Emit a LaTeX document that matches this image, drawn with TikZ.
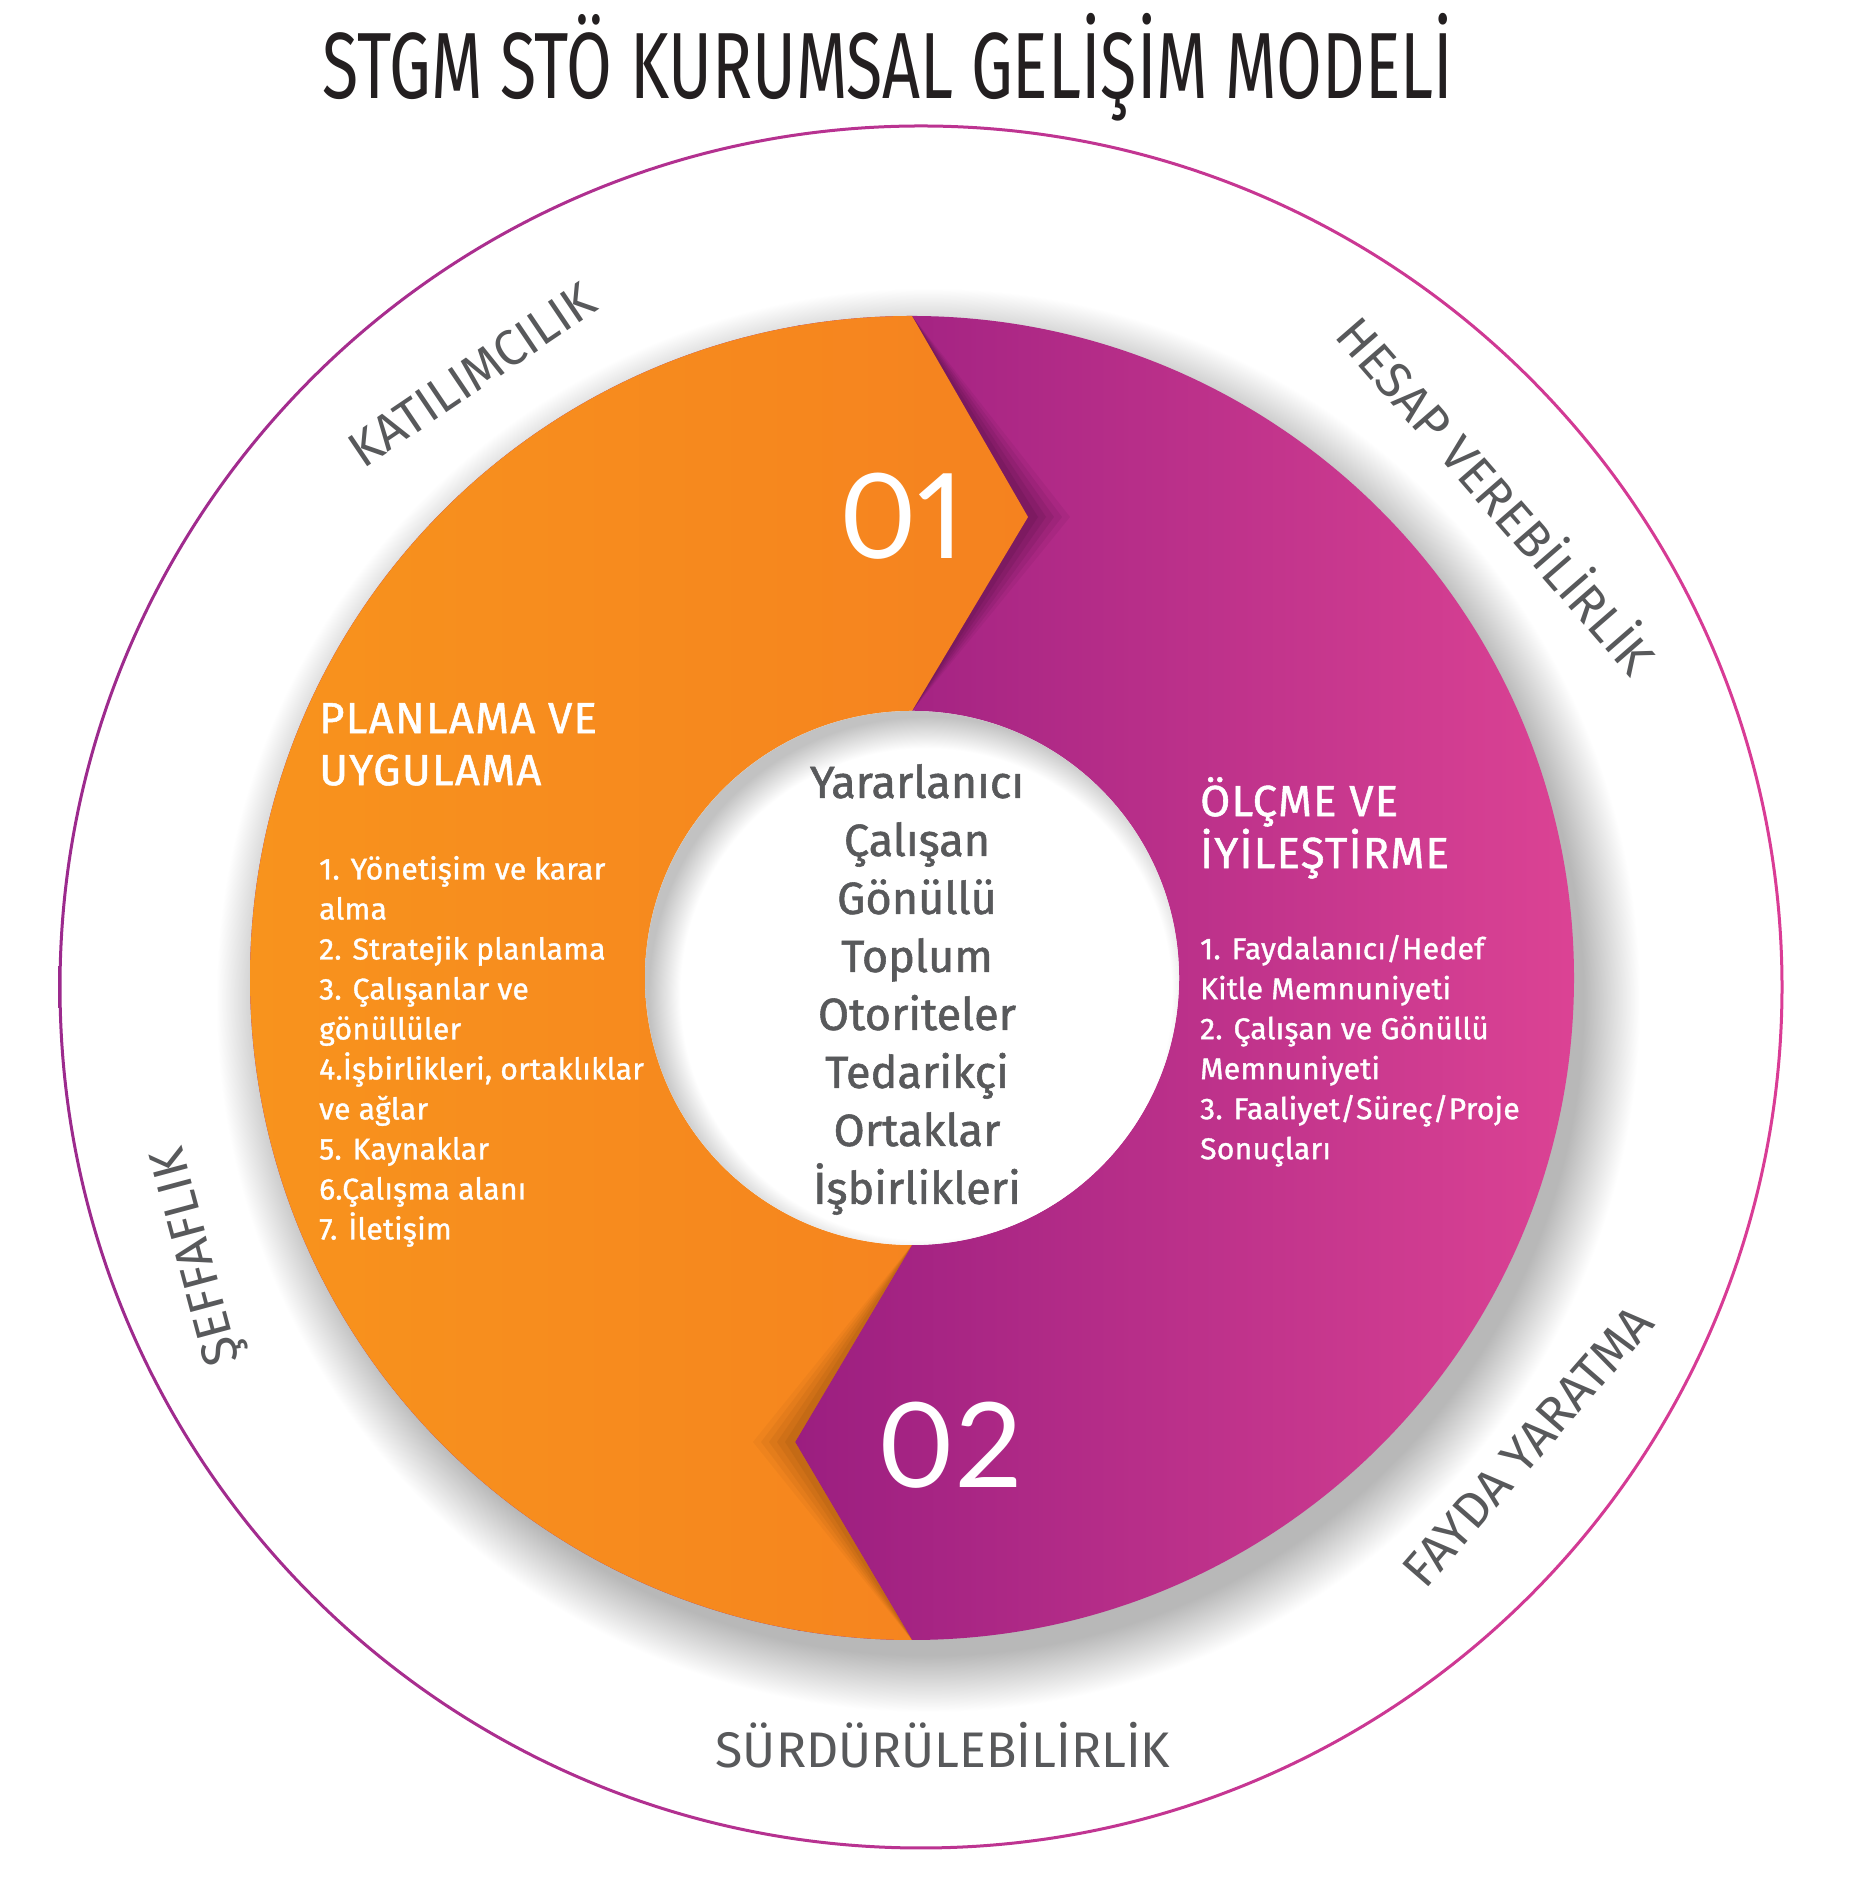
\documentclass[tikz,border=0pt]{standalone}
\usepackage{fontspec}
\setmainfont{Fira Sans}
\newfontfamily\titlefont[FakeStretch=0.705]{Fira Sans}
\newfontfamily\boxfont[FakeBold=1.2]{Fira Sans}
\newfontfamily\numberfont[Numbers=Proportional]{Lato}
\usetikzlibrary{
    positioning,
    calc
}
\definecolor{stgmorange}{HTML}{F8931D}
\definecolor{stgmorangedark}{HTML}{F5821F}
\definecolor{stgmpurple}{HTML}{9B1E80}
\definecolor{stgmpink}{HTML}{DC4394}
\definecolor{stgmrimleft}{HTML}{9C2A8D}
\definecolor{stgmrimright}{HTML}{DA3C95}
\definecolor{stgmgray}{HTML}{58595B}
\definecolor{stgmtitle}{HTML}{231F20}
\definecolor{purpleshade}{HTML}{4A0F3D}
\definecolor{orangeshade}{HTML}{8A4A10}

\pgfdeclareradialshading{ringshadow}{\pgfpointorigin}{%
    color(0bp)=(black!28); color(23bp)=(black!28); color(25bp)=(white); color(50bp)=(white)}
\pgfdeclareradialshading{holeshadow}{\pgfpointorigin}{%
    color(0bp)=(white); color(20bp)=(white); color(22.6bp)=(black!24); color(25bp)=(black!24); color(50bp)=(black!24)}

\tikzset{%
    title/.style={%
        font=\titlefont\fontsize{94}{94}\selectfont,
        text=stgmtitle,
        inner sep=0pt
    },
    value/.style={%
        font=\fontsize{50}{50}\selectfont,
        text=stgmgray,
        inner sep=0pt
    },
    heading/.style={%
        font=\boxfont\fontsize{43.5}{52}\selectfont\addfontfeature{LetterSpace=3},
        text=white,
        align=left,
        inner sep=0pt,
        anchor=north west
    },
    item list/.style={%
        font=\boxfont\fontsize{30}{40}\selectfont\addfontfeature{LetterSpace=1},
        text=white,
        align=left,
        inner sep=0pt
    },
    stakeholders/.style={%
        font=\boxfont\fontsize{45}{58}\selectfont,
        text=stgmgray,
        align=center,
        inner sep=0pt
    },
    step number/.style={%
        font=\numberfont\fontsize{118}{118}\selectfont,
        text=white,
        inner sep=0pt,
        anchor=base
    },
    rim/.style={%
        even odd rule,
        left color=stgmrimleft,
        right color=stgmrimright
    },
}

\begin{document}
\begin{tikzpicture}[x=1pt, y=1pt]
    \useasboundingbox[fill=white] (0,0) rectangle (1851,1894);

    \coordinate (c) at (912,916);
    \coordinate (rim center) at (921,907);
    \coordinate (top) at ($(c)+(90:662)$);
    \coordinate (bottom) at ($(c)+(-90:662)$);
    \coordinate (hole top) at ($(c)+(90:267)$);
    \coordinate (hole bottom) at ($(c)+(-90:267)$);
    \coordinate (tip1) at (1028,1377);
    \coordinate (tip2) at (795,452);

    % shadow under the ring
    \shade[shading=ringshadow] ($(c)+(16,-22)$) circle (712);

    % purple part
    \begin{scope}
        \clip (c) circle (662);
        \fill[stgmpurple] (240,240) rectangle (800,1590);
        \shade[left color=stgmpurple, right color=stgmpink] (795,240) rectangle (1580,1590);
        \fill[purpleshade, opacity=.08] (top) -- ($(tip1)+(42,0)$) -- (hole top) -- cycle;
        \fill[purpleshade, opacity=.1] (top) -- ($(tip1)+(34,0)$) -- (hole top) -- cycle;
        \fill[purpleshade, opacity=.12] (top) -- ($(tip1)+(26,0)$) -- (hole top) -- cycle;
        \fill[purpleshade, opacity=.14] (top) -- ($(tip1)+(18,0)$) -- (hole top) -- cycle;
        \fill[purpleshade, opacity=.16] (top) -- ($(tip1)+(10,0)$) -- (hole top) -- cycle;
    \end{scope}

    % orange part
    \shade[left color=stgmorange, right color=stgmorangedark]
        (top) arc[start angle=90, end angle=270, radius=662] -- (tip2) -- (hole bottom)
        -- (hole top) -- (tip1) -- cycle;
    \begin{scope}
        \clip (top) arc[start angle=90, end angle=270, radius=662] -- (tip2) -- (hole bottom)
            -- (hole top) -- (tip1) -- cycle;
        \fill[orangeshade, opacity=.07] (hole bottom) -- ($(tip2)+(-42,0)$) -- (bottom) -- cycle;
        \fill[orangeshade, opacity=.09] (hole bottom) -- ($(tip2)+(-34,0)$) -- (bottom) -- cycle;
        \fill[orangeshade, opacity=.11] (hole bottom) -- ($(tip2)+(-26,0)$) -- (bottom) -- cycle;
        \fill[orangeshade, opacity=.13] (hole bottom) -- ($(tip2)+(-18,0)$) -- (bottom) -- cycle;
        \fill[orangeshade, opacity=.15] (hole bottom) -- ($(tip2)+(-10,0)$) -- (bottom) -- cycle;
    \end{scope}

    % hole
    \fill[white] (c) circle (267);
    \begin{scope}
        \clip (c) circle (267);
        \shade[shading=holeshadow] ($(c)+(14,-16)$) circle (307);
    \end{scope}

    \shade[rim] (rim center) circle (862.5) (rim center) circle (859.5);

    \node[title, anchor=base] (title) at (888,1795) {STGM STÖ KURUMSAL GELİŞİM MODELİ};

    \node[value, rotate=34] (participation) at (472,1519) {KATILIMCILIK};
    \node[value, rotate=-49] (accountability) at (1499,1401) {HESAP VEREBİLİRLİK};
    \node[value, rotate=105] (transparency) at (200,638) {ŞEFFAFLIK};
    \node[value, rotate=49] (benefit) at (1528,448) {FAYDA YARATMA};
    \node[value, anchor=base] (sustainability) at (943,126) {SÜRDÜRÜLEBİLİRLİK};

    \node[step number] (step1) at (902,1335) {01};
    \node[step number] (step2) at (950,406) {02};

    \node[heading] (plan head) at (319,1191) {PLANLAMA VE\\UYGULAMA};
    \node[item list, below=70pt of plan head.south west, anchor=north west] (plan items) {%
        1. Yönetişim ve karar\\
        alma\\
        2. Stratejik planlama\\
        3. Çalışanlar ve\\
        gönüllüler\\
        4.İşbirlikleri, ortaklıklar\\
        ve ağlar\\
        5. Kaynaklar\\
        6.Çalışma alanı\\
        7. İletişim};

    \node[heading] (measure head) at (1200,1117) {ÖLÇME VE\\İYİLEŞTİRME};
    \node[item list, below=56pt of measure head.south west, anchor=north west] (measure items) {%
        1. Faydalanıcı/Hedef\\
        Kitle Memnuniyeti\\
        2. Çalışan ve Gönüllü\\
        Memnuniyeti\\
        3. Faaliyet/Süreç/Proje\\
        Sonuçları};

    \node[stakeholders, anchor=north] (stakeholders) at (917,1130) {%
        Yararlanıcı\\
        Çalışan\\
        Gönüllü\\
        Toplum\\
        Otoriteler\\
        Tedarikçi\\
        Ortaklar\\
        İşbirlikleri};
\end{tikzpicture}
\end{document}
